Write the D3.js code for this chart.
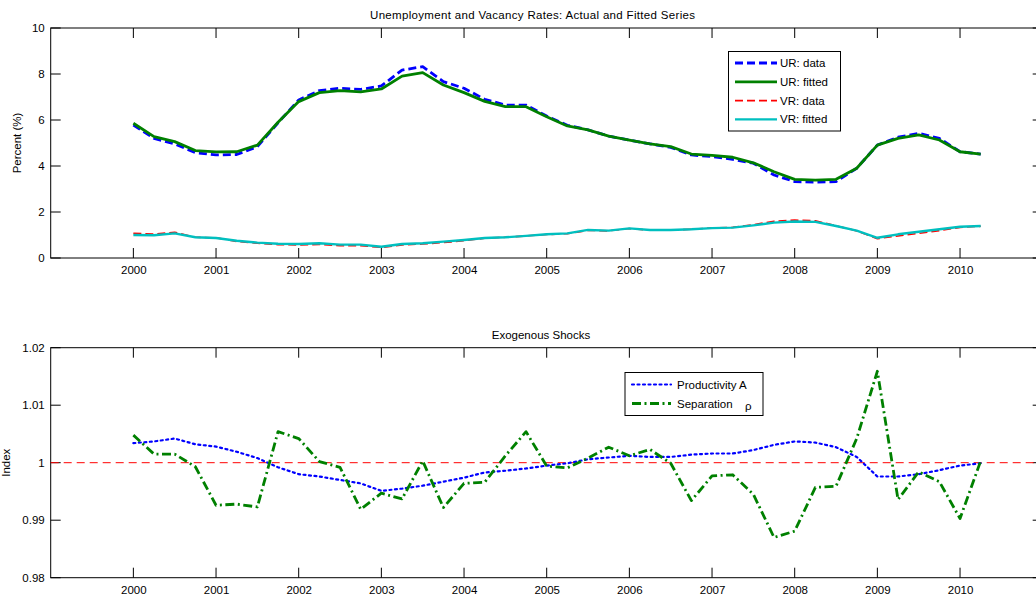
<!DOCTYPE html>
<html>
<head>
<meta charset="utf-8">
<script src="https://cdn.jsdelivr.net/npm/d3@7"></script>
<style>
  html, body { margin: 0; padding: 0; background: #fff; }
  svg { display: block; overflow: hidden; }
  text { font-family: "Liberation Sans", Arial, sans-serif; fill: #000; }
</style>
</head>
<body>
<svg id="fig" width="1036" height="600"></svg>
<script>
// Quarterly observations, 2000Q1 .. 2010Q2
const quarters = d3.range(42).map(i => 2000 + i * 0.25);
const yearTicks = d3.range(2000, 2011);

// Unemployment rate (percent)
const urData = [5.78, 5.20, 4.96, 4.58, 4.48, 4.50, 4.84, 5.88, 6.87, 7.28, 7.38, 7.33, 7.48, 8.17, 8.32, 7.67,
  7.38, 6.90, 6.65, 6.65, 6.17, 5.77, 5.57, 5.30, 5.13, 4.96, 4.81, 4.48, 4.41, 4.29, 4.12, 3.61,
  3.32, 3.30, 3.32, 3.90, 4.91, 5.25, 5.42, 5.20, 4.62, 4.52];
const urFitted = [5.86, 5.28, 5.06, 4.67, 4.61, 4.62, 4.91, 5.90, 6.80, 7.19, 7.28, 7.22, 7.35, 7.91, 8.06, 7.52,
  7.19, 6.81, 6.58, 6.58, 6.14, 5.74, 5.57, 5.30, 5.13, 4.96, 4.84, 4.52, 4.46, 4.38, 4.14, 3.75,
  3.42, 3.39, 3.42, 3.90, 4.91, 5.20, 5.35, 5.13, 4.62, 4.52];

// Vacancy rate (percent)
const vrData = [1.07, 1.04, 1.12, 0.90, 0.88, 0.72, 0.64, 0.58, 0.57, 0.59, 0.54, 0.54, 0.46, 0.57, 0.61, 0.67,
  0.75, 0.86, 0.90, 0.96, 1.02, 1.06, 1.20, 1.18, 1.28, 1.21, 1.21, 1.25, 1.31, 1.33, 1.45, 1.60,
  1.65, 1.62, 1.40, 1.18, 0.84, 0.96, 1.07, 1.19, 1.33, 1.38];
const vrFitted = [1.00, 0.99, 1.07, 0.90, 0.87, 0.75, 0.67, 0.62, 0.61, 0.64, 0.58, 0.58, 0.49, 0.61, 0.64, 0.71,
  0.78, 0.87, 0.90, 0.96, 1.03, 1.07, 1.22, 1.19, 1.29, 1.22, 1.22, 1.25, 1.30, 1.32, 1.42, 1.54,
  1.59, 1.57, 1.39, 1.19, 0.88, 1.03, 1.14, 1.25, 1.36, 1.39];

// Exogenous shock indices
const productivity = [1.0034, 1.0037, 1.0042, 1.0032, 1.0028, 1.0019, 1.0008, 0.9992, 0.9980, 0.9976, 0.9970, 0.9964,
  0.9951, 0.9955, 0.9960, 0.9967, 0.9974, 0.9983, 0.9986, 0.9990, 0.9995, 0.9999, 1.0006, 1.0009,
  1.0012, 1.0010, 1.0010, 1.0014, 1.0016, 1.0016, 1.0022, 1.0031, 1.0037, 1.0035, 1.0027, 1.0010,
  0.9976, 0.9976, 0.9980, 0.9987, 0.9995, 0.9999];
const separation = [1.0048, 1.0015, 1.0015, 0.9993, 0.9926, 0.9928, 0.9923, 1.0054, 1.0042, 1.0002, 0.9992, 0.9919,
  0.9947, 0.9937, 1.0003, 0.9922, 0.9964, 0.9966, 1.0012, 1.0054, 0.9994, 0.9991, 1.0008, 1.0027,
  1.0012, 1.0023, 0.9999, 0.9934, 0.9977, 0.9979, 0.9945, 0.9870, 0.9881, 0.9957, 0.9959, 1.0042,
  1.0159, 0.9936, 0.9984, 0.9967, 0.9903, 1.0003];

const topTicks = [0, 2, 4, 6, 8, 10];
const bottomTicks = [0.98, 0.99, 1, 1.01, 1.02];

const svg = d3.select("#fig");
const x = d3.scaleLinear().domain([1999, 2011]).range([50.7, 1042.7]);
const FS = "11.5px";

function panel(top, bottom, yDomain, yTicks, fmt, ylabel, ylabelX) {
  const y = d3.scaleLinear().domain(yDomain).range([bottom, top]);
  const g = svg.append("g");
  const tl = 10;
  // frame
  g.append("rect").attr("x", x.range()[0]).attr("y", top)
    .attr("width", x.range()[1] - x.range()[0]).attr("height", bottom - top)
    .attr("fill", "none").attr("stroke", "#000").attr("stroke-width", 1);
  // year labels below, inward ticks on all four sides
  const xb = d3.axisBottom(x).tickValues(yearTicks).tickSize(0).tickFormat(d3.format("d")).tickPadding(8);
  const ax = g.append("g").attr("transform", `translate(0,${bottom})`).call(xb);
  ax.select(".domain").remove();
  ax.selectAll("text").style("font-size", FS).attr("dy", "0.71em");
  yearTicks.forEach(v => {
    g.append("line").attr("x1", x(v)).attr("x2", x(v)).attr("y1", bottom).attr("y2", bottom - tl).attr("stroke", "#000");
    g.append("line").attr("x1", x(v)).attr("x2", x(v)).attr("y1", top).attr("y2", top + tl).attr("stroke", "#000");
  });
  const yl = d3.axisLeft(y).tickValues(yTicks).tickSize(0).tickFormat(fmt).tickPadding(6);
  const ay = g.append("g").attr("transform", `translate(${x.range()[0]},0)`).call(yl);
  ay.select(".domain").remove();
  ay.selectAll("text").style("font-size", FS);
  yTicks.forEach(v => {
    g.append("line").attr("x1", x.range()[0]).attr("x2", x.range()[0] + tl).attr("y1", y(v)).attr("y2", y(v)).attr("stroke", "#000");
    g.append("line").attr("x1", x.range()[1]).attr("x2", x.range()[1] - tl).attr("y1", y(v)).attr("y2", y(v)).attr("stroke", "#000");
  });
  g.append("text").attr("transform", `translate(${ylabelX},${(top + bottom) / 2}) rotate(-90)`)
    .attr("text-anchor", "middle").style("font-size", FS).text(ylabel);
  return { g, y };
}

function series(g, y, values, color, width, dash) {
  const line = d3.line().x((d, i) => x(quarters[i])).y(d => y(d));
  const p = g.append("path").datum(values).attr("d", line)
    .attr("fill", "none").attr("stroke", color).attr("stroke-width", width)
    .attr("stroke-linejoin", "round");
  if (dash) p.attr("stroke-dasharray", dash);
  return p;
}

// Top panel: unemployment and vacancy rates
const P1 = panel(28, 258, [0, 10], topTicks, d3.format("d"), "Percent  (%)", 21);
P1.g.append("text").attr("x", 370).attr("y", 19).style("font-size", FS)
  .attr("textLength", 325).attr("lengthAdjust", "spacing")
  .text("Unemployment and Vacancy Rates:  Actual and Fitted Series");

const topSeries = [
  { label: "UR:  data", vals: urData, color: "#0000ff", w: 2.8, dash: "8,4" },
  { label: "UR:  fitted", vals: urFitted, color: "#008000", w: 2.8, dash: null },
  { label: "VR:  data", vals: vrData, color: "#ff0000", w: 1.6, dash: "8,4" },
  { label: "VR:  fitted", vals: vrFitted, color: "#00bfbf", w: 2.4, dash: null }
];
[2, 3, 0, 1].forEach(k => {
  const s = topSeries[k];
  series(P1.g, P1.y, s.vals, s.color, s.w, s.dash);
});

const lg1 = P1.g.append("g");
lg1.append("rect").attr("x", 728.5).attr("y", 51.5).attr("width", 112).attr("height", 79.5)
  .attr("fill", "#fff").attr("stroke", "#000").attr("stroke-width", 1);
topSeries.forEach((s, i) => {
  const yy = 63 + i * 18.8;
  const l = lg1.append("line").attr("x1", 735).attr("x2", 777).attr("y1", yy).attr("y2", yy)
    .attr("stroke", s.color).attr("stroke-width", s.w);
  if (s.dash) l.attr("stroke-dasharray", s.dash);
  lg1.append("text").attr("x", 780).attr("y", yy).attr("dy", "0.35em").style("font-size", FS).text(s.label);
});

// Bottom panel: exogenous shocks
const P2 = panel(347.7, 577.7, [0.98, 1.02], bottomTicks, d => String(+d.toFixed(2)), "Index", 10);
P2.g.append("text").attr("x", 541).attr("y", 339).attr("text-anchor", "middle")
  .style("font-size", FS).text("Exogenous Shocks");
P2.g.append("line").attr("x1", x.range()[0]).attr("x2", x.range()[1])
  .attr("y1", P2.y(1)).attr("y2", P2.y(1))
  .attr("stroke", "#ff0000").attr("stroke-width", 1).attr("stroke-dasharray", "8,5");
series(P2.g, P2.y, productivity, "#0000ff", 2.2, "2,3.5").attr("stroke-linecap", "round");
series(P2.g, P2.y, separation, "#008000", 2.8, "9,3.5,2,3.5");

const lg2 = P2.g.append("g");
lg2.append("rect").attr("x", 625).attr("y", 372.5).attr("width", 138).attr("height", 43)
  .attr("fill", "#fff").attr("stroke", "#000").attr("stroke-width", 1);
lg2.append("line").attr("x1", 632).attr("x2", 671).attr("y1", 384.5).attr("y2", 384.5)
  .attr("stroke", "#0000ff").attr("stroke-width", 2.2).attr("stroke-dasharray", "2,3.5").attr("stroke-linecap", "round");
lg2.append("text").attr("x", 677).attr("y", 384.5).attr("dy", "0.35em").style("font-size", FS).text("Productivity A");
lg2.append("line").attr("x1", 632).attr("x2", 671).attr("y1", 403.5).attr("y2", 403.5)
  .attr("stroke", "#008000").attr("stroke-width", 2.8).attr("stroke-dasharray", "9,3.5,2,3.5");
lg2.append("text").attr("x", 677).attr("y", 403.5).attr("dy", "0.35em").style("font-size", FS).text("Separation");
lg2.append("text").attr("x", 745).attr("y", 405.5).attr("dy", "0.35em").style("font-size", FS).text("ρ");
</script>
</body>
</html>
